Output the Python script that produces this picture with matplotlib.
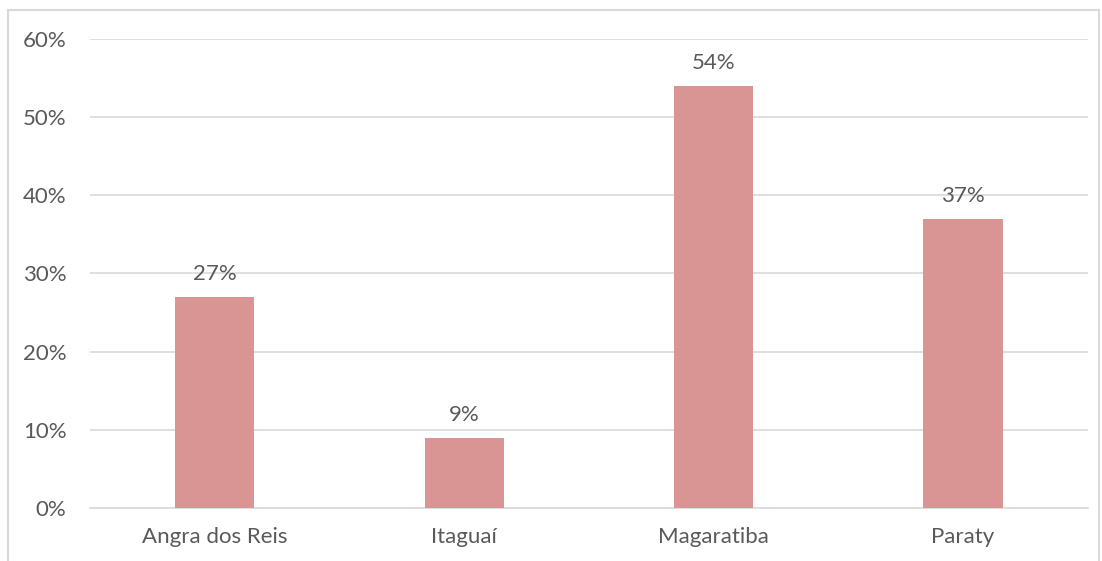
import matplotlib
matplotlib.use("Agg")
import matplotlib.pyplot as plt
from matplotlib.patches import Rectangle
from matplotlib.ticker import PercentFormatter

# Municipios e percentuais
CATEGORIES = ["Angra dos Reis", "Itaguaí", "Magaratiba", "Paraty"]
VALUES = [27, 9, 54, 37]
Y_TICKS = [0, 10, 20, 30, 40, 50, 60]

BAR_COLOR = "#D99594"
TEXT_COLOR = "#595959"
GRID_COLOR = "#D9D9D9"

plt.rcParams["font.family"] = ["Lato", "DejaVu Sans"]

fig = plt.figure(figsize=(11.02, 5.61), dpi=100)
ax = fig.add_axes([0.0817, 0.0945, 0.9053, 0.836])

x = range(len(CATEGORIES))
bars = ax.bar(x, VALUES, width=0.317, color=BAR_COLOR, zorder=3)

for rect, v in zip(bars, VALUES):
    ax.annotate(f"{v}%", (rect.get_x() + rect.get_width() / 2, v),
                xytext=(0, 9), textcoords="offset points",
                ha="center", va="bottom", fontsize=16, color=TEXT_COLOR)

ax.set_xlim(-0.5, len(CATEGORIES) - 0.5)
ax.set_ylim(0, 60)
ax.set_yticks(Y_TICKS)
ax.yaxis.set_major_formatter(PercentFormatter(decimals=0))
ax.set_xticks(list(x))
ax.set_xticklabels(CATEGORIES)

ax.grid(axis="y", color=GRID_COLOR, linewidth=1.2, zorder=0)
for side in ["top", "right", "left"]:
    ax.spines[side].set_visible(False)
ax.spines["bottom"].set_color(GRID_COLOR)
ax.spines["bottom"].set_linewidth(1.2)
ax.tick_params(axis="both", length=0, labelsize=16, labelcolor=TEXT_COLOR)
ax.tick_params(axis="y", pad=17)
ax.tick_params(axis="x", pad=14)

# moldura do grafico
fig.patches.append(Rectangle((8 / 1102, -0.1), 1091 / 1102, 1 - 10 / 561 + 0.1,
                             transform=fig.transFigure, fill=False,
                             edgecolor=GRID_COLOR, linewidth=1.5))

fig.savefig("out.png", dpi=100)
